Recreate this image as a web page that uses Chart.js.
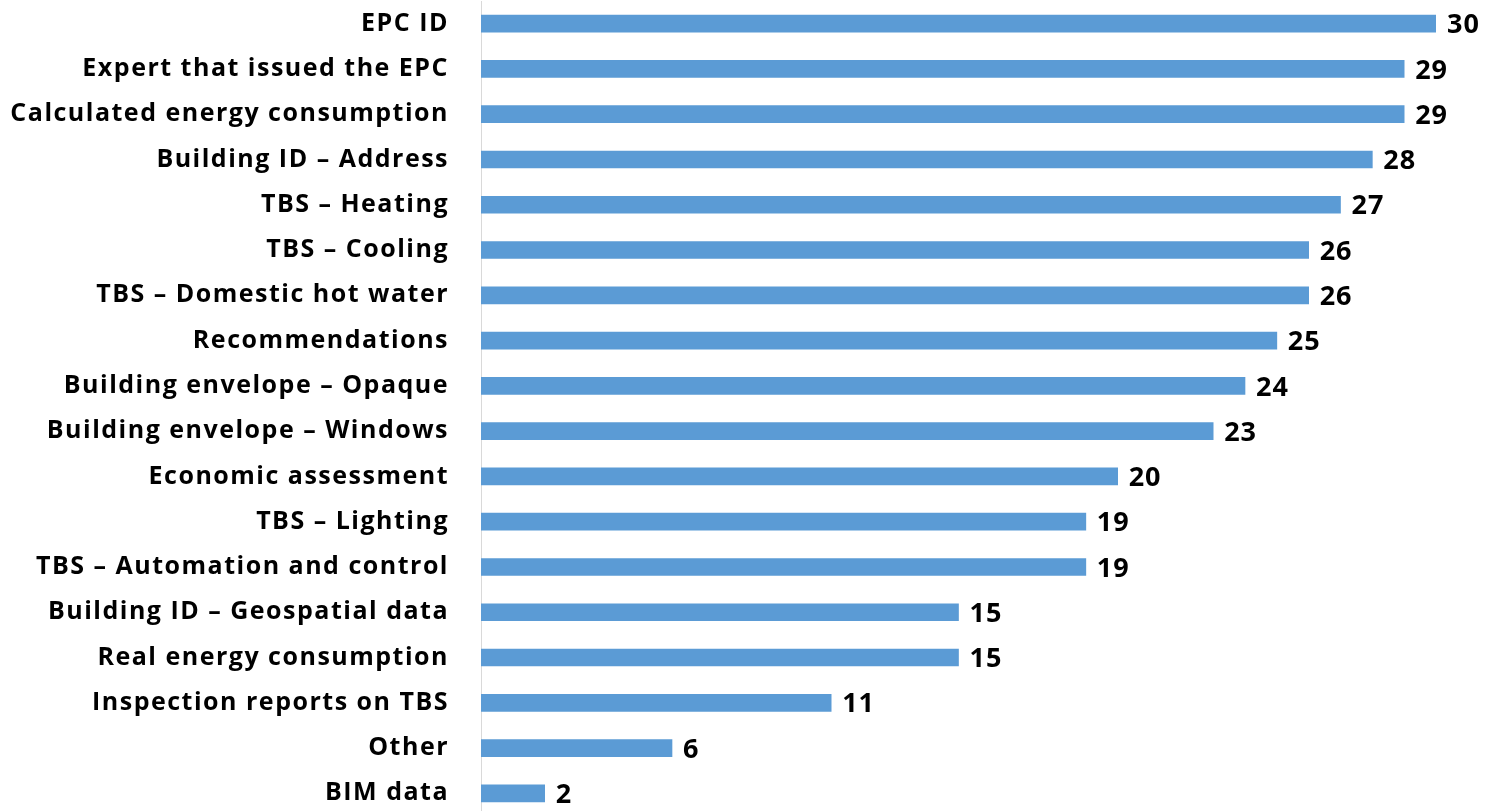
<!DOCTYPE html>
<html>
<head>
<meta charset="utf-8">
<script src="https://cdn.jsdelivr.net/npm/chart.js@4"></script>
<style>
  html, body { margin: 0; padding: 0; background: #fff; overflow: hidden; }
  canvas { display: block; }
</style>
</head>
<body>
<canvas id="fieldsChart" width="1489" height="816"></canvas>
<script>
const categories = [
  "EPC ID",
  "Expert that issued the EPC",
  "Calculated energy consumption",
  "Building ID \u2013 Address",
  "TBS \u2013 Heating",
  "TBS \u2013 Cooling",
  "TBS \u2013 Domestic hot water",
  "Recommendations",
  "Building envelope \u2013 Opaque",
  "Building envelope \u2013 Windows",
  "Economic assessment",
  "TBS \u2013 Lighting",
  "TBS \u2013 Automation and control",
  "Building ID \u2013 Geospatial data",
  "Real energy consumption",
  "Inspection reports on TBS",
  "Other",
  "BIM data"
];
const counts = [30, 29, 29, 28, 27, 26, 26, 25, 24, 23, 20, 19, 19, 15, 15, 11, 6, 2];

const FONT = "'Open Sans', 'Liberation Sans', Arial, sans-serif";

// slightly looser tracking for all canvas text
const tracking = {
  id: "tracking",
  beforeLayout(chart) { chart.ctx.letterSpacing = "1.5px"; },
  beforeDraw(chart) { chart.ctx.letterSpacing = "1.5px"; }
};

// value labels to the right of every bar
const barValues = {
  id: "barValues",
  afterDatasetsDraw(chart) {
    const { ctx } = chart;
    const meta = chart.getDatasetMeta(0);
    ctx.save();
    ctx.letterSpacing = "1px";
    ctx.font = "bold 27px " + FONT;
    ctx.fillStyle = "#000";
    ctx.textAlign = "left";
    ctx.textBaseline = "middle";
    meta.data.forEach((bar, i) => {
      ctx.fillText(String(counts[i]), bar.x + 11, bar.y + 2);
    });
    ctx.restore();
  }
};

new Chart(document.getElementById("fieldsChart").getContext("2d"), {
  type: "bar",
  data: {
    labels: categories,
    datasets: [{
      data: counts,
      backgroundColor: "#5B9BD5",
      borderWidth: 0,
      barThickness: 17
    }]
  },
  options: {
    indexAxis: "y",
    responsive: false,
    animation: false,
    layout: { padding: { top: 1, right: 53, bottom: 0, left: 0 } },
    plugins: {
      legend: { display: false },
      tooltip: { enabled: false }
    },
    scales: {
      x: {
        display: false,
        min: 0,
        max: 30
      },
      y: {
        afterFit: (scale) => {
          scale.width = 481;
          // no extra room above/below the first and last category
          scale.paddingTop = 0;
          scale.paddingBottom = 0;
        },
        grid: { display: false, drawTicks: false },
        border: { display: true, color: "#D9D9D9", width: 1 },
        ticks: {
          padding: 32,
          color: "#000",
          autoSkip: false,
          font: { family: FONT, size: 25, weight: "bold" }
        }
      }
    }
  },
  plugins: [tracking, barValues]
});
</script>
</body>
</html>
